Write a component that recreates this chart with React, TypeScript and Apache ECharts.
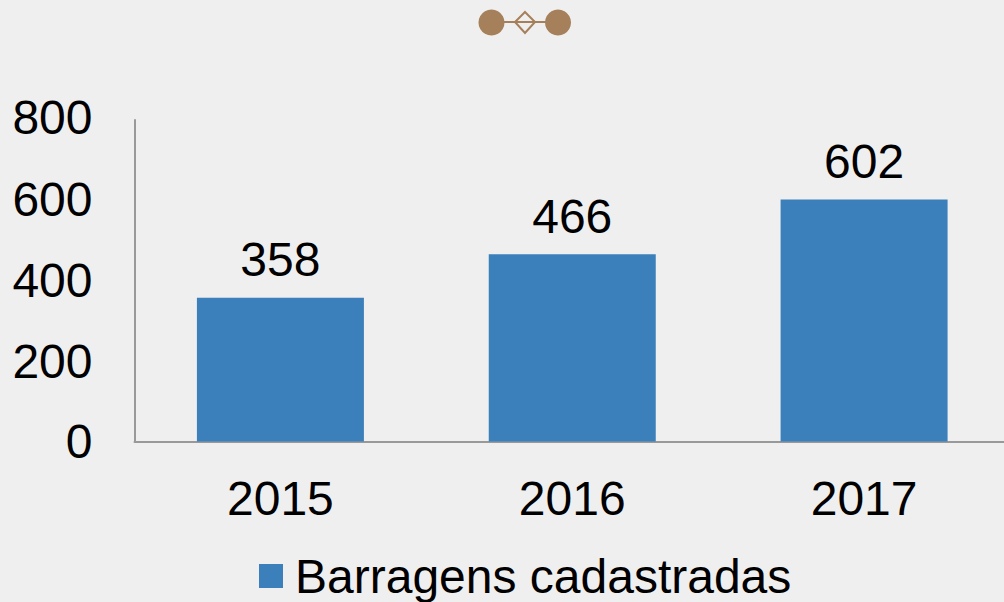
import React, { useEffect, useRef } from "react";
import * as echarts from "echarts";

const categories = ["2015", "2016", "2017"];
const seriesName = "Barragens cadastradas";
const values = [358, 466, 602];
const FONT = '"Liberation Sans", Arial, sans-serif';
const BG = "#efefef";
const BROWN = "#a67f5b";
const labelStyle = { fontSize: 48, color: "#000", fontFamily: FONT };

export default function App() {
  const ref = useRef<HTMLDivElement>(null);
  useEffect(() => {
    document.body.style.margin = "0";
    document.body.style.background = BG;
    const chart = echarts.init(ref.current!, null, { renderer: "svg" });
    chart.setOption({
      animation: false,
      backgroundColor: BG,
      textStyle: { fontFamily: FONT },
      grid: { left: 134.5, top: 120, width: 875.5, height: 321.5, containLabel: false, outerBoundsMode: "none" },
      legend: {
        left: 254,
        top: 547,
        icon: "rect",
        itemWidth: 24,
        itemHeight: 24,
        itemGap: 0,
        textStyle: { ...labelStyle, padding: [0, 0, 0, 7] },
        data: [seriesName],
      },
      xAxis: {
        type: "category",
        data: categories,
        axisTick: { show: false },
        axisLine: { lineStyle: { color: "#999", width: 2 } },
        axisLabel: { ...labelStyle, margin: 33 },
      },
      yAxis: {
        type: "value",
        min: 0,
        max: 800,
        interval: 200,
        splitLine: { show: false },
        axisTick: { show: false },
        axisLine: { show: true, lineStyle: { color: "#999", width: 2 } },
        axisLabel: {
          ...labelStyle,
          margin: 42,
          formatter: (v: number) => (v === 800 ? `{a|${v}}` : v === 600 ? `{b|${v}}` : `${v}`),
          rich: {
            a: { ...labelStyle, padding: [0, 0, 6, 0] },
            b: { ...labelStyle, padding: [0, 0, 2, 0] },
          },
        },
      },
      series: [
        {
          name: seriesName,
          type: "bar",
          data: values,
          barWidth: 167,
          itemStyle: { color: "#3b80bb" },
          label: { show: true, position: "top", distance: 14, ...labelStyle },
        },
      ],
      graphic: [
        { type: "line", shape: { x1: 491, y1: 22, x2: 558, y2: 22 }, style: { stroke: BROWN, lineWidth: 2 } },
        { type: "polygon", shape: { points: [[525, 12], [535, 22], [525, 33], [515, 22]] }, style: { fill: "none", stroke: BROWN, lineWidth: 2 } },
        { type: "circle", shape: { cx: 491.5, cy: 22.5, r: 13 }, style: { fill: BROWN } },
        { type: "circle", shape: { cx: 558, cy: 22.5, r: 13 }, style: { fill: BROWN } },
      ],
    });
    return () => chart.dispose();
  }, []);
  return <div ref={ref} style={{ width: 1004, height: 602 }} />;
}
